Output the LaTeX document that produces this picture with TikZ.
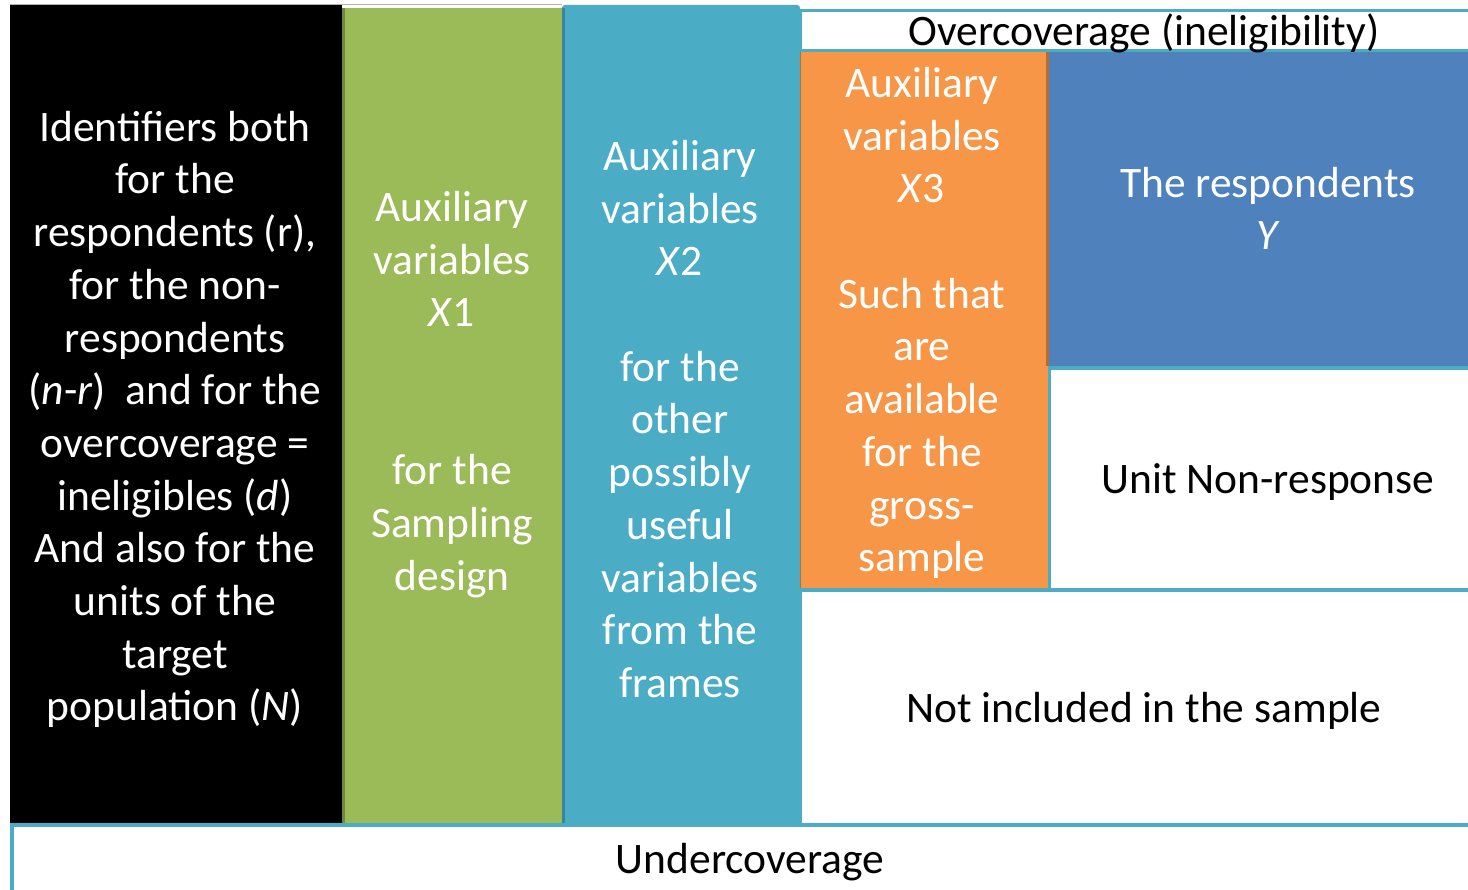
\documentclass[tikz,border=0pt]{standalone}
\usepackage{fontspec}
\setmainfont{Carlito}
\definecolor{tealc}{HTML}{4BACC6}
\definecolor{tealdark}{HTML}{3A8599}
\definecolor{greenc}{HTML}{9BBB59}
\definecolor{greendark}{HTML}{71893F}
\definecolor{orangec}{HTML}{F79646}
\definecolor{orangedark}{HTML}{B66D31}
\definecolor{bluec}{HTML}{4F81BD}
\begin{document}
\begin{tikzpicture}[x=1pt,y=-1pt,
  txt/.style={align=center, font=\fontsize{43.5}{52.7}\selectfont, inner sep=0pt},
  wtxt/.style={txt, text=white},
  btxt/.style={txt, text=black},
  frame/.style={draw=tealc, line width=4pt, fill=white}]
\useasboundingbox (0,0) rectangle (1468,890);
\begin{scope}
\clip (0,0) rectangle (1468,890);
% outer frames
\draw[frame] (12,825) rectangle (1500,930);
\draw[frame] (800,590) rectangle (1500,825);
\draw[frame] (1049,368) rectangle (1500,590);
\fill[bluec] (1049,52) rectangle (1500,366);
\fill[orangec] (799.5,52) rectangle (1048,588);
\draw[orangedark, line width=2.5pt] (799.5,52) -- (799.5,588);
\draw[orangedark, line width=2.5pt] (1047.5,52) -- (1047.5,366);
\draw[tealc, line width=4pt] (800,590) -- (1049,590);
\draw[draw=tealc, line width=3pt, fill=white] (800,10.5) rectangle (1500,51);
% columns
\fill[tealc, rounded corners=3pt] (562,5) -- (800,5) -- (800,823) -- (562,823) -- cycle;
\fill[greenc] (342,8) rectangle (562,823);
\draw[greendark, line width=3pt] (343.5,8) -- (343.5,823);
\draw[tealdark, line width=3pt] (563.5,8) -- (563.5,823);
\fill[black] (10,5) rectangle (342,823);
\draw[gray!60, line width=1pt] (10,5) -- (562,5);
\draw[tealc, line width=4pt] (12,825) -- (1500,825);
\end{scope}
% texts
\node[wtxt] (ident) at (175,419.5) {Identifiers both\\for the\\respondents (r),\\for the non-\\respondents\\(\textit{n}-\textit{r})~ and for the\\overcoverage =\\ineligibles (\textit{d})\\And also for the\\units of the\\target\\population (\textit{N})};
\node[wtxt] (x1) at (452,394.5) {Auxiliary\\variables\\\textit{X}1\\\mbox{}\\\mbox{}\\for the\\Sampling\\design};
\node[wtxt] (x2) at (680,419) {Auxiliary\\variables\\\textit{X}2\\\mbox{}\\for the\\other\\possibly\\useful\\variables\\from the\\frames};
\node[wtxt] (x3) at (922,323) {Auxiliary\\variables\\\textit{X}3\\\mbox{}\\Such that\\are\\available\\for the\\gross-\\sample};
\node[wtxt] (resp) at (1268,208.5) {The respondents\\\textit{Y}};
\node[btxt] (unr) at (1268,482.5) {Unit Non-response};
\node[btxt] (notinc) at (1144,710.5) {Not included in the sample};
\node[btxt] (over) at (1144,33) {Overcoverage (ineligibility)};
\node[btxt] (under) at (750,862.5) {Undercoverage};
\end{tikzpicture}
\end{document}
